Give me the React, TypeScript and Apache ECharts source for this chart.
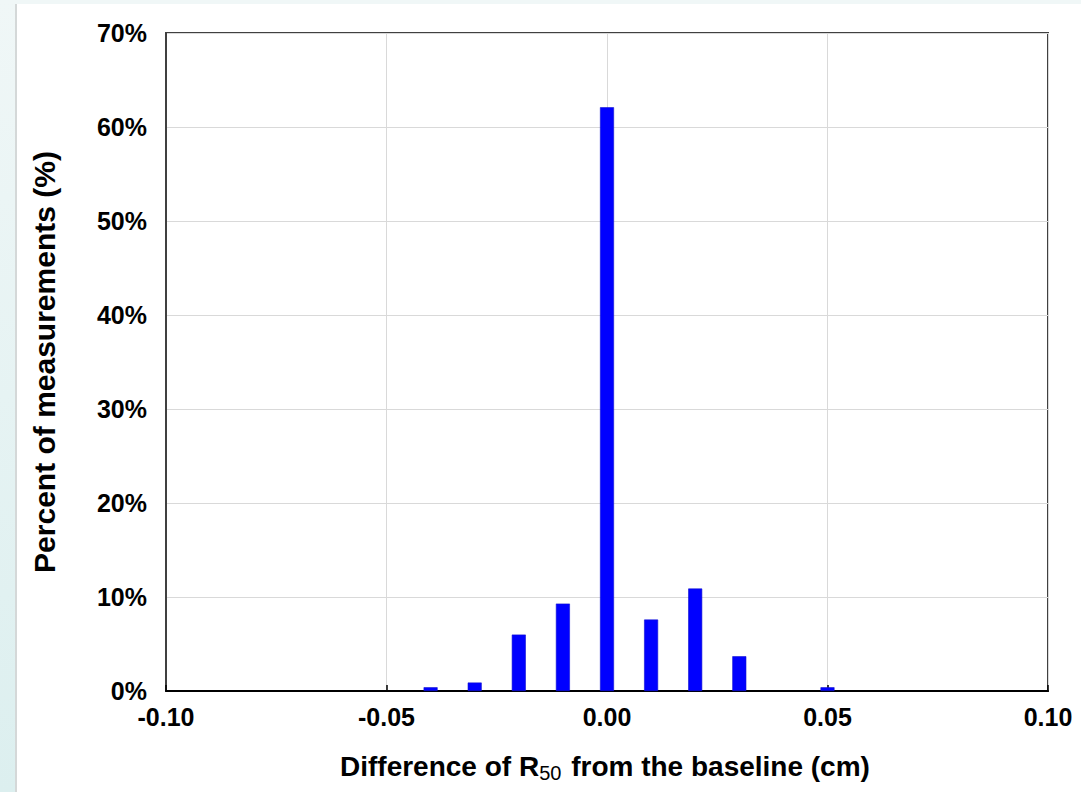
import React, { useEffect, useRef } from "react";
import * as echarts from "echarts";

const binCenters = [-0.04, -0.03, -0.02, -0.01, 0.0, 0.01, 0.02, 0.03, 0.05];
const percentValues = [0.4, 0.9, 6.0, 9.3, 62.1, 7.6, 10.9, 3.7, 0.4];
const yTitle = "Percent of measurements (%)";

export default function App() {
  const ref = useRef<HTMLDivElement>(null);
  useEffect(() => {
    if (!ref.current) return;
    const chart = echarts.init(ref.current, null, { renderer: "svg" });
    const font = "'Liberation Sans', Arial, sans-serif";
    const data = binCenters.map((x, i) => [x, percentValues[i]]);
    chart.setOption({
      animation: false,
      backgroundColor: "#ffffff",
      graphic: [
        {
          type: "rect",
          left: 0,
          top: 0,
          shape: { width: 1081, height: 4 },
          style: { fill: "#f0f7f7" },
          silent: true,
          z: -10,
        },
        {
          type: "rect",
          left: 0,
          top: 0,
          shape: { width: 15, height: 792 },
          style: {
            fill: new echarts.graphic.LinearGradient(0, 0, 0, 1, [
              { offset: 0, color: "#f0f7f7" },
              { offset: 1, color: "#dcefef" },
            ]),
          },
          silent: true,
          z: -10,
        },
        {
          type: "rect",
          left: 15,
          top: 4,
          shape: { width: 2, height: 788 },
          style: { fill: "#d4d8d8" },
          silent: true,
          z: -10,
        },
        {
          type: "text",
          left: 340,
          top: 749,
          style: {
            text: "{a|Difference of R}{sub|50}{a| from the baseline (cm)}",
            rich: {
              a: { fontFamily: font, fontWeight: "bold", fontSize: 28, fill: "#000", lineHeight: 34 },
              sub: { fontFamily: font, fontSize: 20, fill: "#000", lineHeight: 34, padding: [14, 2, 0, 0] },
            },
          },
        },
      ],
      grid: { left: 166, top: 33, right: 33, bottom: 101, show: true, borderColor: "#404040", borderWidth: 2, backgroundColor: "transparent" },
      xAxis: {
        type: "value",
        min: -0.1,
        max: 0.1,
        interval: 0.05,
        axisLine: { show: true, onZero: false, lineStyle: { color: "#000", width: 2 } },
        axisTick: { show: true, inside: true, length: 6, lineStyle: { color: "#000", width: 1.5 } },
        splitLine: { show: true, lineStyle: { color: "#d9d9d9", width: 1 } },
        axisLabel: {
          margin: 13,
          fontFamily: font,
          fontWeight: "bold",
          fontSize: 25,
          color: "#000",
          formatter: (v: number) => (Math.abs(v) < 1e-9 ? 0 : v).toFixed(2),
        },
      },
      yAxis: {
        type: "value",
        min: 0,
        max: 70,
        interval: 10,
        name: yTitle,
        nameLocation: "middle",
        nameGap: 107,
        nameTextStyle: { fontFamily: font, fontWeight: "bold", fontSize: 30, color: "#000" },
        axisLine: { show: true, onZero: false, lineStyle: { color: "#404040", width: 2 } },
        axisTick: { show: false },
        splitLine: { show: true, lineStyle: { color: "#d9d9d9", width: 1 } },
        axisLabel: {
          margin: 19,
          fontFamily: font,
          fontWeight: "bold",
          fontSize: 25,
          color: "#000",
          formatter: "{value}%",
        },
      },
      series: [
        {
          type: "bar",
          data,
          barWidth: 14,
          itemStyle: { color: "#0000ff", borderColor: "#1010d0", borderWidth: 0.6 },
        },
      ],
    });
    return () => chart.dispose();
  }, []);
  return <div ref={ref} style={{ position: "fixed", left: 0, top: 0, width: 1081, height: 792 }} />;
}
